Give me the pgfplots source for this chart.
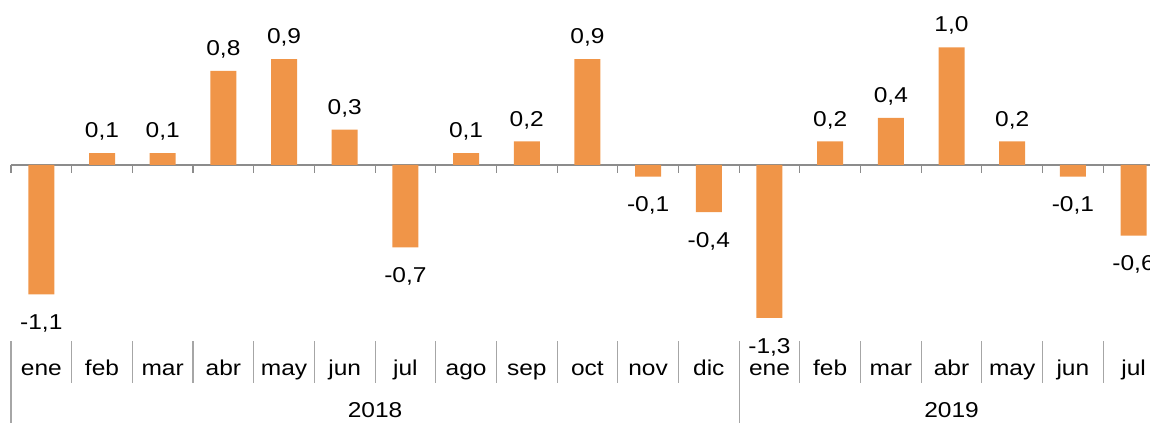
\documentclass[border=0pt]{standalone}
\usepackage{pgfplots}
\pgfplotsset{compat=1.18}
\usepackage{pgfplotstable}
\usepackage{fontspec}
\setmainfont{Liberation Sans}[FakeStretch=1.14]
\definecolor{barorange}{HTML}{F09548}
\definecolor{axgray}{HTML}{8C8C8C}
\definecolor{sepgray}{HTML}{A6A6A6}
\pgfplotstableread{
x y
1 0.1
2 0.1
3 0.8
4 0.9
5 0.3
7 0.1
8 0.2
9 0.9
13 0.2
14 0.4
15 1.0
16 0.2
}\pos
\pgfplotstableread{
x y
0 -1.1
6 -0.7
10 -0.1
11 -0.4
12 -1.3
17 -0.1
18 -0.6
}\neg
\newcommand{\lf}{\fontsize{21.5bp}{25bp}\selectfont}
\begin{document}
\begin{tikzpicture}
\begin{axis}[
  scale only axis, width=1153bp, height=423bp,
  xmin=-0.5, xmax=18.5, ymin=-2.194, ymax=1.403,
  hide axis, clip=false,
  ybar, bar width=26bp, bar shift=0pt,
  nodes near coords,
  nodes near coords align={vertical},
  /pgf/number format/.cd, fixed, fixed zerofill, precision=1, use comma, assume math mode=true,
  /pgfplots/.cd,
]
\draw[axgray, line width=1.3bp] (axis cs:-0.5,0) -- (axis cs:18.5,0);
\pgfplotsinvokeforeach{0,...,19}{
  \draw[axgray, line width=1.1bp] (axis cs:#1-0.5,0) -- (axis cs:#1-0.5,-0.068);
}
\addplot[fill=barorange, draw=none, every node near coord/.append style={font=\lf, text=black, inner sep=12.5bp}] table[x=x,y=y] {\pos};
\addplot[fill=barorange, draw=none, every node near coord/.append style={font=\lf, text=black, inner sep=20bp}] table[x=x,y=y] {\neg};
% category separators
\pgfplotsinvokeforeach{1,...,11,13,14,15,16,17,18,19}{
  \draw[sepgray, line width=1.1bp] (axis cs:#1-0.5,-1.497) -- (axis cs:#1-0.5,-1.854);
}
\draw[sepgray, line width=1.1bp] (axis cs:-0.5,-1.497) -- (axis cs:-0.5,-2.194);
\draw[sepgray, line width=1.1bp] (axis cs:11.5,-1.497) -- (axis cs:11.5,-2.194);
\tikzset{cat/.style={font=\lf, anchor=base, inner sep=0pt}}
\node[cat] at (axis cs:0,-1.794) {ene};
\node[cat] at (axis cs:1,-1.794) {feb};
\node[cat] at (axis cs:2,-1.794) {mar};
\node[cat] at (axis cs:3,-1.794) {abr};
\node[cat] at (axis cs:4,-1.794) {may};
\node[cat] at (axis cs:5,-1.794) {jun};
\node[cat] at (axis cs:6,-1.794) {jul};
\node[cat] at (axis cs:7,-1.794) {ago};
\node[cat] at (axis cs:8,-1.794) {sep};
\node[cat] at (axis cs:9,-1.794) {oct};
\node[cat] at (axis cs:10,-1.794) {nov};
\node[cat] at (axis cs:11,-1.794) {dic};
\node[cat] at (axis cs:12,-1.794) {ene};
\node[cat] at (axis cs:13,-1.794) {feb};
\node[cat] at (axis cs:14,-1.794) {mar};
\node[cat] at (axis cs:15,-1.794) {abr};
\node[cat] at (axis cs:16,-1.794) {may};
\node[cat] at (axis cs:17,-1.794) {jun};
\node[cat] at (axis cs:18,-1.794) {jul};
\node[cat] at (axis cs:5.5,-2.149) {2018};
\node[cat] at (axis cs:15,-2.149) {2019};
\coordinate (bl) at (axis cs:-0.681,-2.194);
\coordinate (tr) at (axis cs:18.271,1.403);
\end{axis}
\pgfresetboundingbox
\path[use as bounding box] (bl) rectangle (tr);
\end{tikzpicture}
\end{document}
